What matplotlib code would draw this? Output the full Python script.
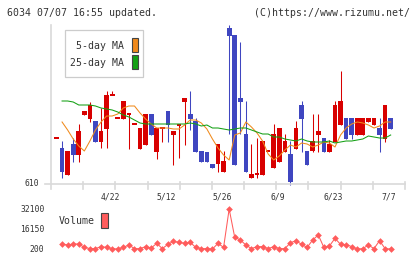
import matplotlib
matplotlib.use("Agg")
import matplotlib.pyplot as plt
from matplotlib.lines import Line2D
from matplotlib.patches import Rectangle
from matplotlib.transforms import Affine2D, blended_transform_factory

# daily candles (index 0..60), prices
OPEN = [656, 646, 619, 650, 639, 679, 675, 673, 652, 665,
        699, 676, 675, 680, 670, 645, 649, 680, 642, 666,
        683, 659, 669, 692, 680, 673, 643, 642, 630, 630,
        622, 766, 759, 696, 660, 616, 620, 619, 643, 626,
        632, 642, 640, 645, 689, 643, 643, 659, 656, 642,
        652, 669, 676, 676, 659, 659, 672, 669, 666, 655, 676]
HIGH = [656, 653, 643, 656, 670, 683, 692, 673, 686, 703,
        703, 676, 693, 680, 670, 666, 680, 680, 666, 666,
        683, 663, 669, 696, 703, 676, 643, 642, 630, 650,
        643, 769, 759, 752, 693, 650, 656, 653, 643, 670,
        666, 660, 653, 673, 693, 643, 680, 680, 656, 654,
        693, 723, 676, 676, 676, 676, 676, 676, 676, 689, 676]
LOW = [656, 616, 619, 632, 632, 679, 672, 652, 646, 646,
       699, 676, 675, 645, 670, 645, 649, 659, 635, 652,
       652, 629, 636, 649, 664, 642, 632, 632, 626, 622,
       622, 660, 629, 660, 622, 616, 616, 619, 643, 626,
       632, 642, 609, 645, 642, 629, 642, 642, 642, 642,
       652, 669, 655, 655, 659, 659, 672, 669, 642, 652, 665]
CLOSE = [656, 622, 643, 639, 663, 683, 689, 652, 663, 699,
         699, 676, 693, 680, 670, 666, 680, 659, 666, 666,
         669, 663, 669, 696, 675, 642, 632, 632, 626, 650,
         633, 758, 629, 692, 622, 620, 620, 653, 643, 660,
         666, 653, 612, 666, 675, 629, 653, 663, 642, 650,
         689, 693, 655, 659, 676, 676, 676, 676, 659, 689, 665]

# moving averages, index 1..60
MA5 = [672, 664, 655, 648, 643, 653, 664, 672, 678, 678,
       680, 686, 688, 688, 681, 675, 670, 666, 666, 666,
       665, 665, 669, 674, 674, 671, 665, 655, 646, 639,
       634, 659, 661, 672, 667, 661, 653, 640, 634, 638,
       644, 649, 647, 651, 650, 647, 649, 652, 651, 647,
       659, 666, 670, 672, 671, 669, 666, 668, 672, 672]
MA25 = [693, 693, 692, 689, 689, 689, 688, 686, 685, 684,
        682, 679, 677, 674, 671, 670, 670, 670, 670, 670,
        670, 670, 670, 671, 670, 668, 669, 666, 666, 665,
        664, 665, 666, 666, 664, 662, 660, 660, 657, 657,
        655, 654, 653, 655, 653, 652, 652, 652, 653, 651,
        652, 653, 653, 654, 655, 658, 657, 656, 656, 659]

# volume, index 1..60
VOLUME = [4200, 3400, 4200, 4200, 1500, 500, 500, 2100, 1500, 500,
          200, 1500, 3400, 500, 500, 2100, 1000, 4700, 500, 3900,
          6300, 5500, 4700, 5500, 1500, 500, 500, 200, 4700, 1500,
          32100, 9500, 7400, 3400, 500, 2100, 2100, 500, 2100, 500,
          500, 5200, 6800, 3900, 1500, 7400, 11400, 1500, 2600, 8700,
          3900, 3700, 2100, 200, 500, 3400, 500, 6800, 500, 200]

DATE_POS = [10, 20, 30, 40, 50, 60]
DATE_LABELS = ["4/22", "5/12", "5/26", "6/9", "6/23", "7/7"]
VOL_TICKS = [200, 16150, 32100]

RED = "#d80000"
BLUE = "#3f46c0"
ORANGE = "#f08a1c"
GREEN = "#14a014"
VOLC = "#ff5c5c"
GRID = "#d9d9d9"
TXT = "#333333"
MONO = "DejaVu Sans Mono"

W, H = 420, 259
fig = plt.figure(figsize=(W / 100, H / 100), dpi=100)
# pixel coordinates, origin top-left
PX = Affine2D().scale(1 / W, -1 / H).translate(0, 1) + fig.transFigure


def pline(xs, ys, **kw):
    fig.add_artist(Line2D(xs, ys, transform=PX, **kw))


# price panel
ax = fig.add_axes([51 / W, 1 - 184 / H, 354 / W, 159 / H])
ax.set_xlim(-0.987, 62.57)
ax.set_ylim(610, 769)
ax.axis("off")

n = len(OPEN)
for i in range(n):
    o, h, l, c = OPEN[i], HIGH[i], LOW[i], CLOSE[i]
    col = RED if c >= o else BLUE
    if h > l:
        ax.vlines(i, l, h, color=col, lw=0.75, clip_on=False, zorder=2)
    body = abs(c - o)
    if body < 1.5:
        ax.bar(i, 1.6, bottom=min(o, c) - 0.8, width=0.84,
               color=col, linewidth=0, zorder=3, clip_on=False)
    else:
        ax.bar(i, body, bottom=min(o, c), width=0.84,
               color=col, linewidth=0, zorder=3, clip_on=False)

xs = list(range(1, n))
ax.plot(xs, MA5, color=ORANGE, lw=0.75, zorder=4)
ax.plot(xs, MA25, color=GREEN, lw=0.75, zorder=4)

# axis frame and ticks
pline([51, 51], [25, 189], color=GRID, lw=1.2)
pline([45, 405], [184, 184], color=GRID, lw=1.2)
for k in range(1, 12):
    xk = 51 + 354 * k / 11
    pline([xk, xk], [182, 189], color=GRID, lw=1.2)

fig.text(39.5, 184, "610", transform=PX, ha="right", va="center",
         fontsize=5.8, family=MONO, color=TXT)
tdate = blended_transform_factory(ax.transData, PX)
for p, lab in zip(DATE_POS, DATE_LABELS):
    ax.text(p - 0.3, 197.5, lab, transform=tdate, ha="center", va="center",
            fontsize=5.8, family=MONO, color=TXT)

# legend
fig.add_artist(Rectangle((65, 30), 78, 47, transform=PX, facecolor="white",
                         edgecolor="#cccccc", lw=0.9, zorder=5))
fig.text(124.5, 46, "5-day MA", transform=PX, ha="right", va="center",
         fontsize=7.1, family=MONO, color=TXT, zorder=6)
fig.text(124.5, 63, "25-day MA", transform=PX, ha="right", va="center",
         fontsize=7.1, family=MONO, color=TXT, zorder=6)
fig.add_artist(Rectangle((131.7, 37.5), 6, 14.5, transform=PX, facecolor=ORANGE,
                         edgecolor="#444444", lw=0.8, zorder=6))
fig.add_artist(Rectangle((131.7, 54.5), 6, 14.5, transform=PX, facecolor=GREEN,
                         edgecolor="#444444", lw=0.8, zorder=6))

# header
fig.text(7.3, 12.7, "6034 07/07 16:55 updated.", transform=PX, ha="left",
         va="center", fontsize=7.1, family=MONO, color=TXT)
fig.text(409.5, 12.7, "(C)https://www.rizumu.net/", transform=PX, ha="right",
         va="center", fontsize=7.1, family=MONO, color=TXT)

# volume panel
vax = fig.add_axes([51 / W, 1 - 255 / H, 354 / W, 52 / H])
vax.set_xlim(-0.987, 62.57)
vax.set_ylim(-4585, 36885)
vax.axis("off")
vax.plot(xs, VOLUME, color=VOLC, lw=0.75, marker="D", markersize=3.4,
         markeredgewidth=0, markerfacecolor=VOLC, clip_on=False)

tvol = blended_transform_factory(PX, vax.transData)
for v in VOL_TICKS:
    vax.text(44.5, v, str(v), transform=tvol, ha="right", va="center",
             fontsize=5.8, family=MONO, color=TXT)
fig.text(59, 221, "Volume", transform=PX, ha="left", va="center",
         fontsize=7.1, family=MONO, color=TXT)
fig.add_artist(Rectangle((101, 213), 6.5, 15, transform=PX, facecolor=VOLC,
                         edgecolor="#444444", lw=0.8))

fig.savefig("out.png", dpi=100)
